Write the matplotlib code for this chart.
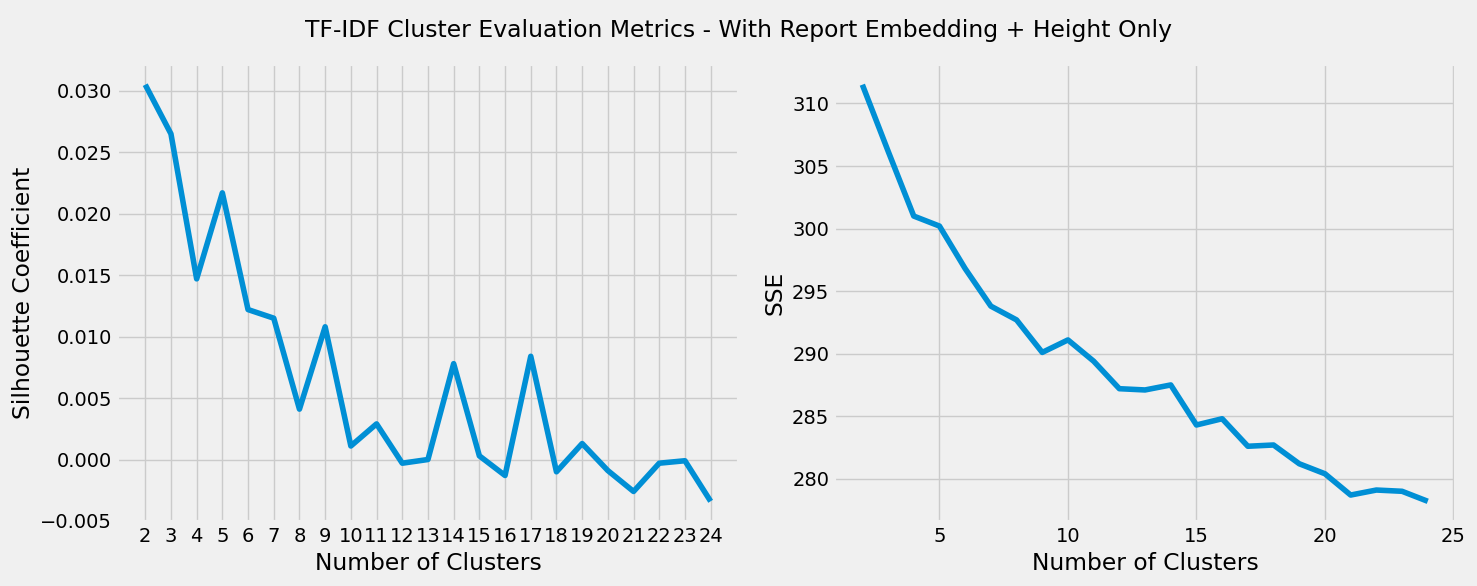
import matplotlib
matplotlib.use('Agg')
import matplotlib.pyplot as plt

plt.style.use('fivethirtyeight')

# cluster counts evaluated
n_clusters = list(range(2, 25))

# silhouette coefficient per k
silhouette = [0.0305, 0.0265, 0.0147, 0.0217, 0.0122, 0.0115, 0.0041, 0.0108,
              0.0011, 0.0029, -0.0003, 0.0000, 0.0078, 0.0003, -0.0013, 0.0084,
              -0.0010, 0.0013, -0.0009, -0.0026, -0.0003, -0.0001, -0.0034]

# sum of squared errors per k
sse = [311.5, 306.2, 301.0, 300.2, 296.8, 293.8, 292.7, 290.1, 291.1, 289.4,
       287.2, 287.1, 287.5, 284.3, 284.8, 282.6, 282.7, 281.2, 280.4, 278.7,
       279.1, 279.0, 278.2]

fig, (ax1, ax2) = plt.subplots(1, 2, figsize=(14.77, 5.86), dpi=100)
fig.subplots_adjust(left=0.0792, right=0.9858, bottom=0.109, top=0.891, wspace=0.153)

ax1.plot(n_clusters, silhouette)
ax1.set_xticks(n_clusters)
ax1.set_xlabel('Number of Clusters')
ax1.set_ylabel('Silhouette Coefficient')

ax2.plot(n_clusters, sse)
ax2.set_xlabel('Number of Clusters')
ax2.set_ylabel('SSE')

fig.suptitle('TF-IDF Cluster Evaluation Metrics - With Report Embedding + Height Only',
             y=0.968, fontsize=16.9)

fig.savefig('out.png', dpi=100)
